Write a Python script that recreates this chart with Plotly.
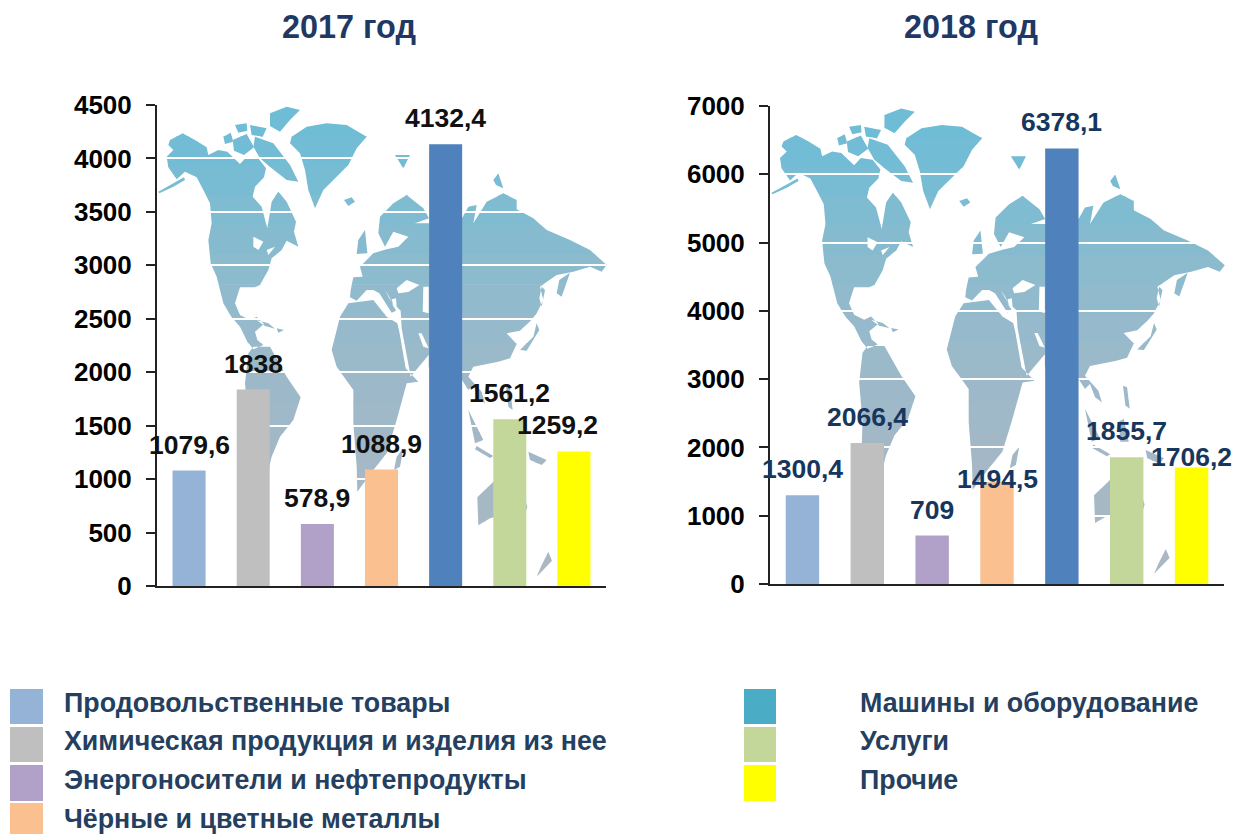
import plotly.graph_objects as go

W, H = 1235, 834

CATEGORIES = ["Продовольственные товары", "Химическая продукция и изделия из нее",
              "Энергоносители и нефтепродукты", "Чёрные и цветные металлы",
              "Машины и оборудование", "Услуги", "Прочие"]
VALUES_2017 = [1079.6, 1838, 578.9, 1088.9, 4132.4, 1561.2, 1259.2]
VALUES_2018 = [1300.4, 2066.4, 709, 1494.5, 6378.1, 1855.7, 1706.2]
LABELS_2017 = ["1079,6", "1838", "578,9", "1088,9", "4132,4", "1561,2", "1259,2"]
LABELS_2018 = ["1300,4", "2066,4", "709", "1494,5", "6378,1", "1855,7", "1706,2"]
TITLES = ["2017 год", "2018 год"]
BAR_COLORS = ["#95B3D7", "#BFBFBF", "#B1A0C7", "#FAC090", "#4F81BD", "#C4D79B", "#FFFF00"]
LEGEND_COLORS = ["#95B3D7", "#BFBFBF", "#B1A0C7", "#FAC090", "#4BACC6", "#C4D79B", "#FFFF00"]

# Background world map outline (decorative), traced in a 1440x1530 working space
LAND = [
 # North America
 [(90,150),(128,130),(165,150),(200,172),(205,195),(235,180),(262,185),(300,222),(320,200),(355,205),(378,235),
  (372,262),(345,290),(338,320),(365,350),(382,415),(395,335),(415,305),(440,335),(468,395),(462,425),(475,470),
  (440,452),(425,480),(395,505),(385,540),(360,585),(345,592),(300,592),(285,640),(300,675),(330,690),(350,680),
  (372,702),(345,725),(352,750),(370,765),(340,778),(322,755),(300,710),(275,682),(250,640),(230,560),(212,520),
  (205,450),(215,400),(210,340),(190,300),(170,262),(135,245),(110,268),(85,232),(80,200),(100,180),(85,165)],
 # Arctic islands
 [(345,140),(400,160),(450,225),(475,275),(440,270),(395,235),(360,205),(340,170)],
 [(390,70),(440,50),(480,60),(450,90),(420,125),(390,108)],
 [(278,150),(320,132),(342,172),(312,195),(282,182)],
 [(250,140),(272,128),(280,155),(255,162)],
 [(330,105),(380,115),(368,140),(335,135)],
 [(285,105),(320,100),(322,122),(295,128)],
 # Aleutians, Cuba, Hispaniola
 [(55,305),(100,280),(132,262),(135,270),(100,290),(58,310)],
 [(350,690),(385,700),(405,716),(375,708)],
 [(410,715),(432,720),(415,728)],
 # Greenland, Iceland, Svalbard
 [(455,140),(500,110),(560,100),(620,105),(680,140),(650,175),(625,225),(590,260),(550,300),(525,355),(505,300),(495,240),(480,190),(450,160)],
 [(612,330),(635,322),(645,335),(625,348)],
 [(765,195),(810,195),(790,235)],
 [(1060,270),(1075,250),(1090,295),(1068,285)],
 # Eurasia
 [(632,600),(640,562),(668,560),(660,530),(700,490),(740,478),(775,470),(805,440),(760,425),(735,470),(715,430),(720,380),(760,340),
  (800,315),(850,355),(867,385),(825,400),(870,400),(966,385),(985,350),(1010,345),(1000,400),(1040,335),(1090,310),(1130,330),
  (1130,358),(1180,385),(1220,420),(1290,450),(1350,480),(1400,525),(1385,545),(1350,530),(1300,545),(1250,555),(1200,590),
  (1210,630),(1190,670),(1172,692),(1140,722),(1100,730),(1130,762),(1110,805),(1075,815),(1000,830),(985,860),(1025,905),
  (1035,940),(1015,925),(1000,885),(985,900),(960,860),(900,940),(866,830),(866,795),(812,860),(785,715),(782,662),(770,650),
  (768,625),(755,628),(762,655),(748,620),(735,600),(768,662),(755,668),(718,610),(700,600),(680,600),(650,632),(630,622)],
 # UK, Ireland
 [(655,450),(675,420),(682,490),(650,492)],
 # Africa
 [(575,780),(600,680),(625,640),(700,630),(740,680),(772,700),(778,725),(797,835),(835,875),(800,880),(770,990),(740,1090),
  (700,1140),(652,1205),(650,1130),(640,1000),(640,900),(590,830)],
 [(770,1100),(790,1075),(780,1130),(762,1140)],
 # South America
 [(340,770),(390,770),(440,860),(482,922),(460,990),(420,1040),(395,1100),(370,1200),(305,1290),(320,1150),(325,1000),(315,880),(325,790)],
 # Japan, Sakhalin, Kamchatka, Philippines
 [(1140,780),(1180,740),(1190,700),(1198,720),(1160,782)],
 [(1205,590),(1215,600),(1205,650),(1198,625)],
 [(1290,548),(1265,620),(1250,610),(1258,570)],
 [(1098,890),(1110,895),(1118,960),(1105,950)],
 # SE Asia islands
 [(985,960),(1030,1050),(1005,1060)],
 [(1010,1068),(1060,1098),(1050,1104),(1005,1078)],
 [(1085,1000),(1100,990),(1115,1060),(1090,1060)],
 [(1165,1085),(1220,1110),(1205,1125),(1170,1110)],
 # Australia, New Zealand
 [(1012,1222),(1060,1175),(1100,1170),(1130,1150),(1162,1250),(1150,1292),(1100,1272),(1050,1285),(1015,1306)],
 [(1225,1385),(1236,1412),(1190,1460),(1205,1425)],
]
SEAS = [
 [(770,595),(800,570),(838,585),(805,606),(775,610)],            # Black Sea
 [(850,590),(866,590),(866,670),(848,665)],                      # Caspian
 [(340,440),(370,455),(355,480),(340,470)],                      # Great Lakes
 [(380,480),(405,470),(385,495)],
 [(835,730),(845,730),(866,775),(850,770)],                      # Persian Gulf
]
BAND_COLORS = ["#6FBCD6", "#72BCD5", "#78BCD3", "#7FBCD1", "#86BBCF", "#8CBBCE", "#91BBCD", "#96BACC",
               "#9ABACA", "#9DB9C9", "#A0B9C8", "#A3B8C7", "#A5B8C6", "#A7B8C5", "#A9B8C4", "#ABB8C3"]


def clip(poly, y0, y1):
    def cut(pts, inside, ylim):
        out = []
        for i, p in enumerate(pts):
            q = pts[(i + 1) % len(pts)]
            if inside(p):
                out.append(p)
            if inside(p) != inside(q):
                t = (ylim - p[1]) / (q[1] - p[1])
                out.append((p[0] + t * (q[0] - p[0]), ylim))
        return out
    pts = cut(poly, lambda p: p[1] >= y0, y0)
    if pts:
        pts = cut(pts, lambda p: p[1] <= y1, y1)
    return pts


def map_shapes(sx, ox, sy, oy):
    def conv(p):
        return (ox + p[0] * sx) / W, 1 - (oy + p[1] * sy) / H

    def path(pts):
        c = [conv(p) for p in pts]
        return "M" + "L".join(f"{x:.5f},{y:.5f}" for x, y in c) + "Z"
    out = []
    top, bottom = 50, 1470
    n = len(BAND_COLORS)
    step = (bottom - top) / n
    for i, col in enumerate(BAND_COLORS):
        y0, y1 = top + i * step, top + (i + 1) * step + 2
        d = ""
        for poly in LAND:
            pts = clip(poly, y0, y1)
            if len(pts) >= 3:
                d += path(pts)
        if d:
            out.append(dict(type="path", path=d, xref="paper", yref="paper", fillcolor=col,
                            line=dict(width=0), layer="below"))
    d = "".join(path(s) for s in SEAS)
    out.append(dict(type="path", path=d, xref="paper", yref="paper", fillcolor="white",
                    line=dict(width=0), layer="below"))
    return out


FONT = "Liberation Sans, Arial, sans-serif"
NAVY = "#1F3864"
LEG_TEXT = "#243F60"

fig = go.Figure()
fig.add_trace(go.Bar(x=CATEGORIES, y=VALUES_2017, marker=dict(color=BAR_COLORS, line=dict(width=0)),
                     xaxis="x", yaxis="y", showlegend=False))
fig.add_trace(go.Bar(x=CATEGORIES, y=VALUES_2018, marker=dict(color=BAR_COLORS, line=dict(width=0)),
                     xaxis="x2", yaxis="y2", showlegend=False))


def xax(l, r, anchor):
    return dict(domain=[l / W, r / W], anchor=anchor, showticklabels=False, ticks="", showgrid=False,
                zeroline=False, showline=True, linecolor="#222222", linewidth=2, fixedrange=True,
                categoryorder="array", categoryarray=CATEGORIES, range=[-0.5, 6.5])


def yax(b, t, rng, dtick, anchor):
    return dict(domain=[1 - b / H, 1 - t / H], anchor=anchor, range=[0, rng], dtick=dtick, ticks="outside", ticklen=9,
                tickwidth=2, tickcolor="#222222", showline=True, linecolor="#222222", linewidth=2,
                showgrid=True, gridcolor="white", gridwidth=2, zeroline=False,
                tickfont=dict(family=FONT, size=26, color="#000000", weight="bold"), ticklabelstandoff=9,
                tickformat="d", fixedrange=True)


annotations = []
# label nudges (dx, dy in px) for the labels that sit off-centre in the reference
NUDGE_2017 = {6: (-16, 0)}
NUDGE_2018 = {3: (0, -23), 6: (0, -16)}
for xr, yr, vals, labs, col, nudge in [("x", "y", VALUES_2017, LABELS_2017, "#111111", NUDGE_2017),
                                       ("x2", "y2", VALUES_2018, LABELS_2018, "#17365D", NUDGE_2018)]:
    for i, (c, v, t) in enumerate(zip(CATEGORIES, vals, labs)):
        dx, dy = nudge.get(i, (0, 0))
        annotations.append(dict(x=c, y=v, xref=xr, yref=yr, text=t, showarrow=False, yanchor="middle", xanchor="center",
                                yshift=26 + dy, xshift=dx, font=dict(family=FONT, size=26.5, color=col, weight="bold")))
for t, cx in zip(TITLES, [349, 971]):
    annotations.append(dict(x=cx / W, y=1 - 27 / H, xref="paper", yref="paper", text=t, showarrow=False,
                            xanchor="center", yanchor="middle",
                            font=dict(family=FONT, size=32.4, color=NAVY, weight="bold")))

shapes = map_shapes(1 / 3, 140, 1 / 3, 90) + map_shapes(1.011 / 3, 753, 0.99 / 3, 92)

ROW_TOP = [689, 727, 765, 803]
ROW_BOT = [724, 762, 801, 834]
ROW_MID = [703, 741, 780, 819]
LEG_POS = [(10, 43, 62, 0), (10, 43, 62, 1), (10, 43, 62, 2), (10, 43, 62, 3),
           (744, 776, 858, 0), (744, 776, 858, 1), (744, 776, 858, 2)]
for name, col, (x0, x1, tx, r) in zip(CATEGORIES, LEGEND_COLORS, LEG_POS):
    shapes.append(dict(type="rect", xref="paper", yref="paper", x0=x0 / W, x1=x1 / W,
                       y0=1 - ROW_BOT[r] / H, y1=1 - ROW_TOP[r] / H, fillcolor=col, line=dict(width=0)))
    annotations.append(dict(x=tx / W, y=1 - ROW_MID[r] / H, xref="paper", yref="paper", text=name, showarrow=False,
                            xanchor="left", yanchor="middle",
                            font=dict(family=FONT, size=26.8, color=LEG_TEXT, weight="bold")))

fig.update_layout(
    width=W, height=H, margin=dict(l=0, r=0, t=0, b=0, autoexpand=False), autosize=False,
    paper_bgcolor="white", plot_bgcolor="rgba(0,0,0,0)", bargap=0.485, showlegend=False,
    xaxis=xax(157, 606, "y"), yaxis=yax(586, 105, 4500, 500, "x"),
    xaxis2=xax(770, 1224, "y2"), yaxis2=yax(584, 106, 7000, 1000, "x2"),
    shapes=shapes, annotations=annotations,
)
fig.write_html("out.html", config=dict(displayModeBar=False),
               post_script="document.body.style.margin='0';document.body.style.overflow='hidden';")
